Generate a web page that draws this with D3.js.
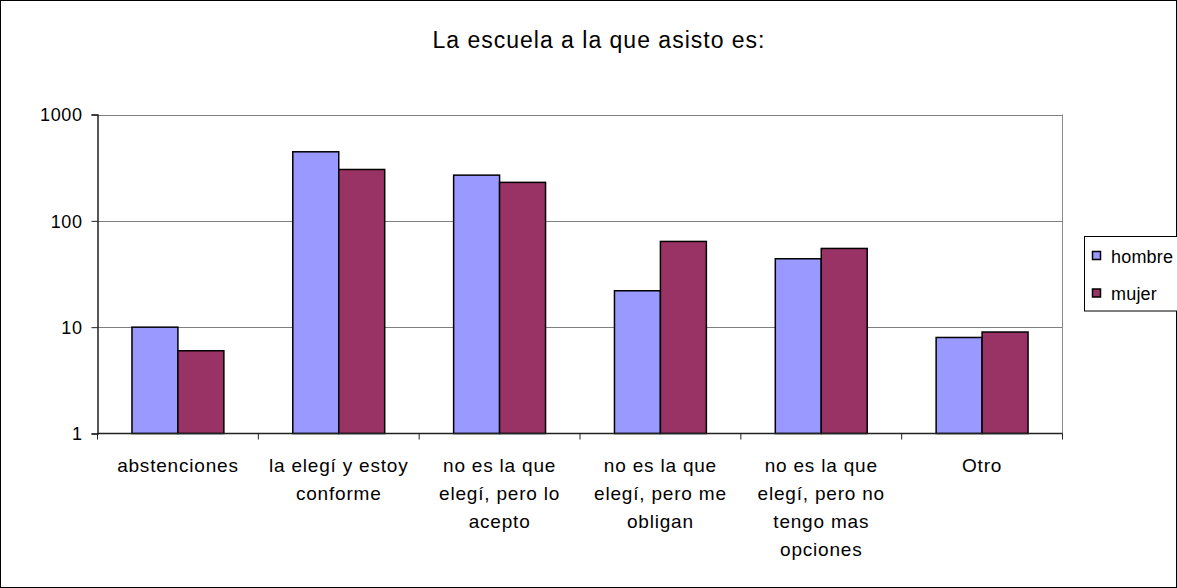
<!DOCTYPE html>
<html>
<head>
<meta charset="utf-8">
<script src="https://cdn.jsdelivr.net/npm/d3@7"></script>
<style>
  html, body { margin: 0; padding: 0; background: #fff; }
  svg { display: block; font-family: "Liberation Sans", Arial, sans-serif; }
</style>
</head>
<body>
<svg id="chart" width="1177" height="588"></svg>
<script>
const title = "La escuela a la que asisto es:";
const categories = [
  "abstenciones",
  "la elegí y estoy\nconforme",
  "no es la que\nelegí, pero lo\nacepto",
  "no es la que\nelegí, pero me\nobligan",
  "no es la que\nelegí, pero no\ntengo mas\nopciones",
  "Otro"
];
const seriesNames = ["hombre", "mujer"];
const hombre = [10, 446, 269, 22, 44, 8];
const mujer = [6, 304, 230, 64, 55, 9];
const yTicks = [1, 10, 100, 1000];
const colors = ["#9999FF", "#993366"];

const svg = d3.select("#chart");
const W = 1177, H = 588;
const plot = { left: 97.5, right: 1062.5, top: 114.5, bottom: 433.5 };

svg.append("rect").attr("x", 0.5).attr("y", 0.5).attr("width", W - 1).attr("height", H - 1)
  .attr("fill", "#fff").attr("stroke", "#000").attr("stroke-width", 1);

svg.append("text").attr("x", 599).attr("y", 48).attr("text-anchor", "middle")
  .attr("font-size", 23).attr("letter-spacing", 1).attr("fill", "#000").text(title);

const x0 = d3.scaleBand().domain(categories).range([plot.left, plot.right]).paddingInner(0).paddingOuter(0);
const x1 = d3.scaleBand().domain(seriesNames).range([0, x0.bandwidth()]).paddingInner(0).paddingOuter(0.75);
const y = d3.scaleLog().domain([1, 1000]).range([plot.bottom, plot.top]);

// gridlines
svg.append("g").selectAll("line").data(yTicks.filter(d => d > 1)).join("line")
  .attr("x1", plot.left).attr("x2", plot.right)
  .attr("y1", d => Math.round(y(d)) + 0.5).attr("y2", d => Math.round(y(d)) + 0.5)
  .attr("stroke", "#7f7f7f").attr("stroke-width", 1);
// right border
svg.append("line").attr("x1", plot.right).attr("x2", plot.right)
  .attr("y1", plot.top).attr("y2", plot.bottom).attr("stroke", "#8a8a8a");

const data = categories.map((c, i) => ({ c, vals: [hombre[i], mujer[i]] }));
const groups = svg.append("g").selectAll("g").data(data).join("g")
  .attr("transform", d => `translate(${x0(d.c)},0)`);
groups.selectAll("rect").data(d => d.vals.map((v, j) => ({ s: seriesNames[j], v, j }))).join("rect")
  .attr("x", d => x1(d.s)).attr("width", x1.bandwidth())
  .attr("y", d => y(d.v)).attr("height", d => plot.bottom - y(d.v))
  .attr("fill", d => colors[d.j]).attr("stroke", "#000").attr("stroke-width", 1.5);

// y axis
const yAxis = d3.axisLeft(y).tickValues(yTicks).tickFormat(d3.format("d")).tickSize(6).tickPadding(9);
const gy = svg.append("g").attr("transform", `translate(${plot.left},0)`).call(yAxis);
gy.select(".domain").attr("stroke", "#222").attr("stroke-width", 1.5);
gy.selectAll(".tick line").attr("stroke", "#222");
gy.selectAll(".tick text").attr("font-size", 18).attr("letter-spacing", 0.6)
  .attr("fill", "#000").attr("font-family", "Liberation Sans, Arial, sans-serif").attr("dy", "0.36em");

// x axis
const gx = svg.append("g").attr("transform", `translate(0,${plot.bottom})`);
gx.append("line").attr("x1", plot.left).attr("x2", plot.right).attr("y1", 0).attr("y2", 0)
  .attr("stroke", "#222").attr("stroke-width", 1.5);
const bounds = categories.map(c => x0(c)).concat([plot.right]);
gx.selectAll("line.tk").data(bounds).join("line").attr("class", "tk")
  .attr("x1", d => d).attr("x2", d => d).attr("y1", 0).attr("y2", 6).attr("stroke", "#222");
const labels = gx.selectAll("text.cat").data(categories).join("text").attr("class", "cat")
  .attr("text-anchor", "middle").attr("font-size", 19).attr("letter-spacing", 0.8).attr("fill", "#000")
  .attr("transform", d => `translate(${x0(d) + x0.bandwidth() / 2},0)`);
labels.selectAll("tspan").data(d => d.split("\n")).join("tspan")
  .attr("x", 0).attr("y", (d, i) => 38.5 + i * 28).text(d => d);

// legend
const lg = svg.append("g");
lg.append("rect").attr("x", 1084.5).attr("y", 236.5).attr("width", 110).attr("height", 74.5)
  .attr("fill", "#fff").attr("stroke", "#000").attr("stroke-width", 1);
const li = lg.selectAll("g").data(seriesNames).join("g")
  .attr("transform", (d, i) => `translate(0,${i * 37.5})`);
li.append("rect").attr("x", 1092.5).attr("y", 251.5).attr("width", 8).attr("height", 8)
  .attr("fill", (d, i) => colors[i]).attr("stroke", "#000").attr("stroke-width", 1.5);
li.append("text").attr("x", 1111).attr("y", 262.5).attr("font-size", 18).attr("letter-spacing", 0.2)
  .attr("fill", "#000").text(d => d);
</script>
</body>
</html>
